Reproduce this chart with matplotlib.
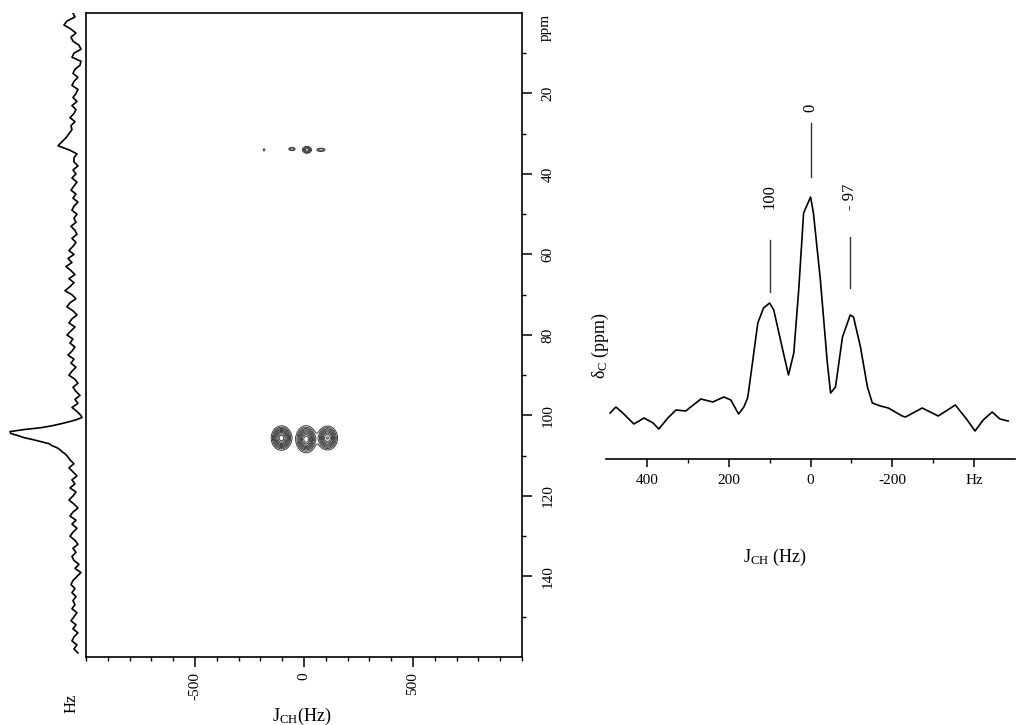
import numpy as np
import matplotlib
matplotlib.use('Agg')
import matplotlib.pyplot as plt
from matplotlib.ticker import MultipleLocator, FixedLocator

plt.rcParams['font.family'] = ['Liberation Serif', 'DejaVu Serif']
plt.rcParams['mathtext.fontset'] = 'custom'
plt.rcParams['mathtext.rm'] = 'Liberation Serif'
plt.rcParams['mathtext.it'] = 'Liberation Serif:italic'
plt.rcParams['axes.unicode_minus'] = False

# 2D cross peaks (J_CH in Hz, delta_C in ppm)
peak_hz = [-103, 10, 108, -183, -55, 14, 78]
peak_ppm = [105.6, 105.9, 105.6, 34.0, 33.8, 34.0, 34.0]
peak_amp = [1.0, 1.0, 0.9, 0.12, 0.2, 0.35, 0.2]
peak_wx = [21, 21, 21, 4, 11, 12, 14]
peak_wy = [1.35, 1.5, 1.35, 0.3, 0.3, 0.5, 0.3]
contour_levels = [0.08, 0.14, 0.21, 0.29, 0.38, 0.48, 0.6, 0.74, 0.88]

# 13C projection along the left side
proj_ppm = (list(range(0, 100))
            + [100, 100.5, 101, 101.5, 102, 102.5, 103, 103.5, 104, 104.5,
               105, 105.5, 106, 106.5, 107, 107.5, 108, 108.5, 109, 109.5,
               110, 111, 112]
            + list(range(113, 160)))
proj_int = [13, 11, 19, 22, 15, 10, 15, 13, 7, 5,
            12, 14, 5, 6, 11, 13, 8, 12, 14, 8,
            10, 13, 9, 14, 10, 12, 16, 11, 15, 14,
            17, 20, 24, 28, 17, 9, 12, 12, 8, 13,
            10, 14, 9, 12, 15, 10, 13, 8, 12, 14,
            9, 12, 10, 15, 11, 9, 14, 10, 13, 17,
            12, 18, 14, 20, 15, 11, 17, 12, 16, 21,
            14, 10, 16, 19, 13, 9, 14, 17, 11, 15,
            19, 13, 16, 11, 14, 18, 12, 15, 10, 14,
            17, 11, 8, 13, 10, 6, 11, 8, 14, 9,
            5, 4, 9, 16, 24, 33, 44, 62, 76, 75,
            68, 62, 53, 45, 37, 34, 29, 26, 24, 21,
            19, 16, 12,
            17, 13, 9, 14, 11, 16, 10, 13, 17, 12,
            8, 13, 16, 10, 14, 9, 13, 16, 11, 8,
            13, 10, 14, 12, 7, 11, 5, 9, 13, 15,
            11, 14, 10, 13, 11, 14, 9, 12, 15, 10,
            13, 8, 12, 14, 9, 12, 8]

# slice through the 105 ppm row
slice_hz = [490, 476, 459, 432, 407, 385, 371, 349, 329, 305, 293, 268, 239,
            212, 195, 176, 163, 154, 151, 129, 115, 100, 90, 68, 54, 41, 29,
            17, 0, -7, -24, -41, -49, -61, -78, -97, -105, -122, -139, -151,
            -171, -190, -224, -232, -273, -312, -354, -383, -402, -422, -444,
            -463, -483]
slice_int = [46, 52, 46, 35, 41, 36, 30, 41, 49, 48, 52, 60, 57,
             62, 59, 45, 52, 61, 69, 136, 151, 156, 149, 109, 84, 106, 169,
             246, 262, 246, 179, 96, 66, 72, 122, 144, 142, 112, 72, 56,
             53, 51, 43, 42, 51, 43, 54, 39, 28, 39, 47,
             40, 38]

mark_hz = [100, 0, -97]
mark_text = ['100', '0', '- 97']
mark_lo = [167, 282, 171]
mark_hi = [219, 336, 222]
mark_text_y = [262, 351, 262]

fig = plt.figure(figsize=(10.16, 7.25), dpi=100)

# --- 2D map ---
ax = fig.add_axes([0.0846, 0.0938, 0.4291, 0.8883])
gx = np.arange(-1000, 1001, 2.0)
gy = np.arange(0, 160.05, 0.1)
X, Y = np.meshgrid(gx, gy)
Z = np.zeros_like(X)
for hz, ppm, a, wx, wy in zip(peak_hz, peak_ppm, peak_amp, peak_wx, peak_wy):
    Z += a * np.exp(-0.5 * ((X - hz) / wx) ** 2 - 0.5 * ((Y - ppm) / wy) ** 2)
ax.contour(X, Y, Z, levels=contour_levels, colors='#3a3a3a', linewidths=0.7)
ax.set_xlim(-1000, 1000)
ax.set_ylim(160, 0)
for s in ax.spines.values():
    s.set_linewidth(1.2)
ax.yaxis.tick_right()
ax.xaxis.set_major_locator(FixedLocator([-500, 0, 500]))
ax.xaxis.set_minor_locator(MultipleLocator(100))
ax.yaxis.set_major_locator(FixedLocator([20, 40, 60, 80, 100, 120, 140]))
ax.yaxis.set_minor_locator(FixedLocator([10, 30, 50, 70, 90, 110, 130, 150]))
ax.tick_params(which='major', direction='out', length=7, width=1.1, labelsize=11)
ax.tick_params(which='minor', direction='out', length=3, width=1.0)
ax.tick_params(axis='x', labelrotation=90, pad=4)
ax.tick_params(axis='y', labelrotation=90, pad=7)
for lab in ax.get_yticklabels():
    lab.set_va('center')
ax.text(1.053, 0.978, 'ppm', transform=ax.transAxes, rotation=90,
        ha='center', va='center', fontsize=11)

# projection on the left
axp = fig.add_axes([0.0, 0.0938, 0.0846, 0.8883])
axp.plot(proj_int, proj_ppm, color='black', lw=1.2)
axp.set_xlim(86, 0)
axp.set_ylim(160, 0)
axp.axis('off')

fig.text(72 / 1016, 1 - 703 / 725, 'Hz', rotation=90, ha='center',
         va='center', fontsize=12)
fig.text(302 / 1016, 1 - 716 / 725, r'J$_{\rm CH}$(Hz)', ha='center',
         va='center', fontsize=13)

# --- 1D slice ---
ax2 = fig.add_axes([0.5965, 0.3669, 0.4026, 0.4952])
ax2.plot(slice_hz, slice_int, color='black', lw=1.2)
ax2.set_xlim(500, -500)
ax2.set_ylim(0, 359)
for side in ['top', 'right', 'left']:
    ax2.spines[side].set_visible(False)
ax2.spines['bottom'].set_linewidth(1.2)
ax2.set_yticks([])
ax2.xaxis.set_major_locator(FixedLocator([400, 200, 0, -200, -400]))
ax2.set_xticklabels(['400', '200', '0', '-200', 'Hz'])
ax2.xaxis.set_minor_locator(FixedLocator([300, 100, -100, -300]))
ax2.tick_params(which='major', direction='out', length=6, width=1.1,
                labelsize=11, pad=5)
ax2.tick_params(which='minor', direction='out', length=3, width=1.0)
for hz, t, lo, hi, ty in zip(mark_hz, mark_text, mark_lo, mark_hi, mark_text_y):
    ax2.plot([hz, hz], [lo, hi], color='#333333', lw=1.0, clip_on=False)
    ax2.text(hz, ty, t, rotation=90, ha='center', va='center', fontsize=12,
             clip_on=False)

fig.text(775 / 1016, 1 - 557 / 725, r'J$_{\rm CH}$ (Hz)', ha='center',
         va='center', fontsize=13)
fig.text(600 / 1016, 1 - 345 / 725, r'δ$_{\rm C}$ (ppm)', rotation=90,
         ha='center', va='center', fontsize=13)

fig.savefig('out.png', dpi=100)
